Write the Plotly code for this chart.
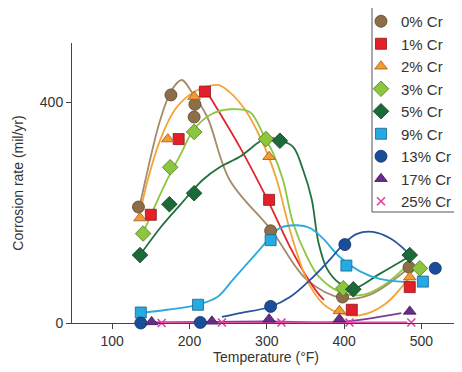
import plotly.graph_objects as go

# ---- series labels ----
series = ["0% Cr", "1% Cr", "2% Cr", "3% Cr", "5% Cr", "9% Cr", "13% Cr", "17% Cr", "25% Cr"]

# ---- measured points (temperature °F, corrosion rate mil/yr) ----
t_0 = [134, 176, 207, 206, 305, 398, 484]
r_0 = [210, 413, 396, 373, 167, 47, 101]
t_1 = [150, 186, 220, 303, 410, 485]
r_1 = [196, 333, 419, 223, 24, 65]
t_2 = [136, 172, 206, 303, 394, 485]
r_2 = [190, 333, 410, 301, 22, 83]
t_3 = [140, 175, 206, 299, 399, 498]
r_3 = [162, 282, 346, 333, 63, 99]
t_5 = [136, 174, 206, 317, 412, 485]
r_5 = [123, 215, 235, 330, 61, 123]
t_9 = [137, 211, 305, 403, 502]
r_9 = [19, 33, 150, 104, 75]
t_13 = [137, 214, 305, 401, 518]
r_13 = [0, 1, 30, 142, 99]
t_17 = [151, 229, 303, 394, 485]
r_17 = [2, 3, 7, 7, 21]
t_25 = [164, 242, 319, 407, 487]
r_25 = [0, 1, 1, 1, 1]

# ---- fitted curves ----
ct_0 = [136, 143, 162, 177, 190, 203, 223, 252, 306, 352, 398, 433, 485]
cr_0 = [214, 259, 367, 422, 440, 418, 373, 259, 168, 78, 45, 51, 101]
ct_1 = [221, 265, 301, 330, 352, 368, 374]
cr_1 = [422, 319, 223, 138, 83, 51, 42]
ct_2 = [136, 146, 162, 181, 201, 220, 237, 252, 272, 287, 299, 313, 330, 352, 372, 390, 420, 452, 485]
cr_2 = [199, 259, 331, 386, 414, 427, 431, 418, 386, 349, 313, 259, 168, 78, 36, 20, 14, 33, 83]
ct_3 = [140, 156, 171, 188, 205, 227, 252, 278, 297, 308, 321, 334, 352, 368, 398, 424, 452, 485]
cr_3 = [163, 214, 259, 304, 349, 377, 387, 382, 337, 308, 259, 181, 120, 83, 54, 51, 69, 109]
ct_5 = [136, 162, 188, 217, 239, 265, 300, 317, 334, 347, 358, 367, 378, 394, 411, 446, 485]
cr_5 = [123, 172, 214, 259, 282, 301, 335, 331, 319, 277, 225, 145, 98, 72, 62, 89, 121]
ct_9 = [136, 171, 210, 236, 256, 287, 304, 317, 339, 356, 372, 394, 420, 446, 485]
cr_9 = [18, 24, 33, 47, 78, 127, 154, 172, 177, 172, 154, 120, 94, 80, 74]
ct_13 = [242, 265, 304, 330, 356, 381, 401, 416, 437, 459, 476, 486]
cr_13 = [11, 18, 29, 47, 78, 114, 145, 161, 165, 154, 136, 121]
ct_17 = [149, 230, 304, 394, 474]
cr_17 = [1, 2, 3, 2, 18]
ct_25 = [162, 240, 320, 400, 482]
cr_25 = [0, 0, 1, 1, 1]

x_ticks = [100, 200, 300, 400, 500]
y_ticks = [0, 400]

pts = [(t_0, r_0), (t_1, r_1), (t_2, r_2), (t_3, r_3), (t_5, r_5),
       (t_9, r_9), (t_13, r_13), (t_17, r_17), (t_25, r_25)]
curves = [(ct_0, cr_0), (ct_1, cr_1), (ct_2, cr_2), (ct_3, cr_3), (ct_5, cr_5),
          (ct_9, cr_9), (ct_13, cr_13), (ct_17, cr_17), (ct_25, cr_25)]

line_colors = ["#A38B6B", "#E0262B", "#F4A23A", "#8CC63F", "#21703F",
               "#2AAAE0", "#24549E", "#7A3C96", "#E04EA8"]
fill_colors = ["#8C6E48", "#E3202A", "#F39A33", "#8CC63F", "#1B6A38",
               "#27A9E1", "#1A4E9A", "#6A2C8A", "#E040A0"]
edge_colors = ["#5E4526", "#8E1418", "#9C5A14", "#4E7A20", "#0F3F20",
               "#14648A", "#0E2E62", "#3E1656", "#E040A0"]
symbols = ["circle", "square", "triangle-up", "diamond", "diamond",
           "square", "circle", "triangle-up", "x-thin"]
sizes = [12, 11, 11, 12, 12, 11, 12, 11, 8]

fig = go.Figure()

for i, (cx, cy) in enumerate(curves):
    fig.add_trace(go.Scatter(
        x=cx, y=cy, mode="lines", showlegend=False, hoverinfo="skip",
        line=dict(color=line_colors[i], width=1.8, shape="spline", smoothing=1.0),
        cliponaxis=False,
    ))

for i, (px, py) in enumerate(pts):
    if symbols[i] == "x-thin":
        marker = dict(symbol="x-thin", size=sizes[i],
                      line=dict(color=fill_colors[i], width=1.6))
    else:
        marker = dict(symbol=symbols[i], size=sizes[i], color=fill_colors[i],
                      line=dict(color=edge_colors[i], width=0.8))
    fig.add_trace(go.Scatter(
        x=px, y=py, mode="markers", name=series[i], marker=marker,
        legendgroup=series[i], cliponaxis=False,
    ))

font_family = "Liberation Sans, Arial, sans-serif"

fig.update_layout(
    width=454, height=364,
    margin=dict(l=64, r=2, t=35, b=49, autoexpand=False),
    paper_bgcolor="white", plot_bgcolor="white",
    font=dict(family=font_family, size=14, color="#333333"),
    legend=dict(
        x=(361 - 72) / 388, y=(323 - 5) / 280, xanchor="left", yanchor="top",
        borderwidth=0, bgcolor="rgba(0,0,0,0)",
        font=dict(size=15, color="#333333"),
        tracegroupgap=0, itemwidth=30, maxheight=320,
    ),
    shapes=[dict(
        type="rect", xref="paper", yref="paper",
        x0=(372 - 72) / 388, x1=(458 - 72) / 388,
        y0=(323 - 212) / 280, y1=(323 - 7) / 280,
        line=dict(color="#555555", width=1), fillcolor="rgba(0,0,0,0)", layer="above",
    )],
    xaxis=dict(
        range=[48, 550], tickvals=x_ticks, ticks="outside", ticklen=5,
        tickcolor="#444444", showline=True, linecolor="#444444", linewidth=1,
        showgrid=False, zeroline=False, automargin=False,
        title=dict(text="Temperature (°F)", font=dict(size=14), standoff=4),
    ),
    yaxis=dict(
        range=[0, 507], tickvals=y_ticks, ticks="outside", ticklen=5,
        tickcolor="#444444", showline=True, linecolor="#444444", linewidth=1,
        showgrid=False, zeroline=False, automargin=False,
        title=dict(text="Corrosion rate (mil/yr)", font=dict(size=14), standoff=12),
    ),
)

fig.write_html("out.html")
